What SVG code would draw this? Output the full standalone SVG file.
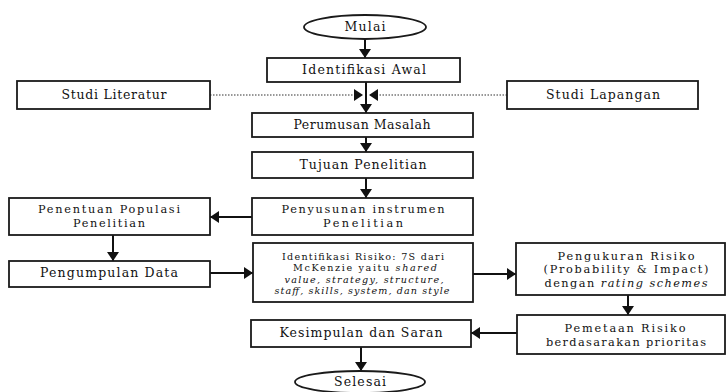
<svg xmlns="http://www.w3.org/2000/svg" width="727" height="392" viewBox="0 0 727 392">
<defs>
<style>
.box{fill:#fff;stroke:#1a1a1a;stroke-width:1.8}
.t{font-family:"DejaVu Serif","Liberation Serif",serif;font-size:12.5px;fill:#111;text-anchor:middle}
.m{font-size:11.3px}
.s{font-family:"DejaVu Serif","Liberation Serif",serif;font-size:9.6px;fill:#111;text-anchor:middle}
.i{font-style:italic}
.c{fill:none;stroke:#111;stroke-width:2}
.d{fill:none;stroke:#333;stroke-width:1.2;stroke-dasharray:1.5 1.5}
</style>
<marker id="ah" viewBox="0 0 9 12" markerUnits="userSpaceOnUse" markerWidth="9" markerHeight="12" refX="9" refY="6" orient="auto">
<path d="M0,0 L9,6 L0,12 z" fill="#111"/>
</marker>
</defs>
<rect width="727" height="392" fill="#fff"/>
<g id="connectors">
<line class="c" x1="365" y1="39" x2="365" y2="58" marker-end="url(#ah)"/>
<line class="c" x1="366" y1="82" x2="366" y2="113" marker-end="url(#ah)"/>
<line class="d" x1="210" y1="95" x2="363" y2="95" marker-end="url(#ah)"/>
<line class="d" x1="507" y1="95" x2="369" y2="95" marker-end="url(#ah)"/>
<line class="c" x1="366" y1="137" x2="366" y2="152" marker-end="url(#ah)"/>
<line class="c" x1="366" y1="178" x2="366" y2="198" marker-end="url(#ah)"/>
<line class="c" x1="252" y1="217" x2="210" y2="217" marker-end="url(#ah)"/>
<line class="c" x1="113" y1="235" x2="113" y2="261" marker-end="url(#ah)"/>
<line class="c" x1="210" y1="273" x2="253" y2="273" marker-end="url(#ah)"/>
<line class="c" x1="473" y1="274" x2="516" y2="274" marker-end="url(#ah)"/>
<line class="c" x1="628" y1="295" x2="628" y2="315" marker-end="url(#ah)"/>
<line class="c" x1="517" y1="333" x2="471" y2="333" marker-end="url(#ah)"/>
<line class="c" x1="361" y1="347" x2="361" y2="371" marker-end="url(#ah)"/>
</g>
<g id="mulai">
<ellipse class="box" cx="365" cy="27" rx="61" ry="12"/>
<text class="t" x="365" y="31" textLength="41">Mulai</text>
</g>
<g id="identifikasi-awal">
<rect class="box" x="267" y="58" width="193" height="24"/>
<text class="t" x="364" y="74" textLength="124">Identifikasi Awal</text>
</g>
<g id="studi-literatur">
<rect class="box" x="17" y="81" width="193" height="28"/>
<text class="t" x="114" y="99" textLength="105">Studi Literatur</text>
</g>
<g id="studi-lapangan">
<rect class="box" x="507" y="81" width="191" height="28"/>
<text class="t" x="603" y="99" textLength="114">Studi Lapangan</text>
</g>
<g id="perumusan-masalah">
<rect class="box" x="252" y="113" width="221" height="24"/>
<text class="t" x="362" y="129" textLength="137">Perumusan Masalah</text>
</g>
<g id="tujuan-penelitian">
<rect class="box" x="252" y="152" width="221" height="26"/>
<text class="t" x="363" y="169" textLength="127">Tujuan Penelitian</text>
</g>
<g id="penyusunan-instrumen">
<rect class="box" x="252" y="198" width="221" height="37"/>
<text class="t m" x="363" y="213" textLength="163">Penyusunan instrumen</text>
<text class="t m" x="363" y="227" textLength="80">Penelitian</text>
</g>
<g id="penentuan-populasi">
<rect class="box" x="9" y="198" width="201" height="37"/>
<text class="t m" x="109" y="213" textLength="142">Penentuan Populasi</text>
<text class="t m" x="109" y="227" textLength="72">Penelitian</text>
</g>
<g id="pengumpulan-data">
<rect class="box" x="9" y="261" width="201" height="26"/>
<text class="t" x="109" y="277" textLength="138">Pengumpulan Data</text>
</g>
<g id="identifikasi-risiko">
<rect class="box" x="253" y="243" width="220" height="59"/>
<text class="s" x="363" y="259.5" textLength="162">Identifikasi Risiko: 7S dari</text>
<text class="s" x="365" y="271" textLength="144">McKenzie yaitu <tspan class="i">shared</tspan></text>
<text class="s i" x="364" y="282.5" textLength="159">value, strategy, structure,</text>
<text class="s i" x="362" y="294" textLength="175">staff, skills, system, dan style</text>
</g>
<g id="pengukuran-risiko">
<rect class="box" x="516" y="243" width="209" height="52"/>
<text class="t m" x="626" y="259.5" textLength="137">Pengukuran Risiko</text>
<text class="t m" x="626" y="273" textLength="165">(Probability &amp; Impact)</text>
<text class="t m" x="626" y="286.5" textLength="163">dengan <tspan class="i">rating schemes</tspan></text>
</g>
<g id="pemetaan-risiko">
<rect class="box" x="517" y="315" width="208" height="39"/>
<text class="t m" x="625" y="331.5" textLength="121">Pemetaan Risiko</text>
<text class="t m" x="626" y="345.5" textLength="160">berdasarakan prioritas</text>
</g>
<g id="kesimpulan-saran">
<rect class="box" x="251" y="320" width="220" height="27"/>
<text class="t" x="361" y="337" textLength="163">Kesimpulan dan Saran</text>
</g>
<g id="selesai">
<ellipse class="box" cx="360" cy="382" rx="65" ry="11"/>
<text class="t" x="360" y="386" textLength="52">Selesai</text>
</g>
</svg>
